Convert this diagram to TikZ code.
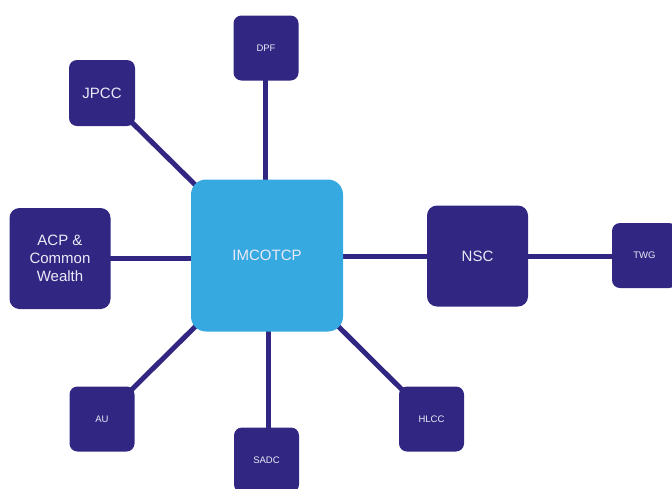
\documentclass[tikz,border=0pt]{standalone}
\usepackage{fontspec}
\setmainfont{Liberation Sans}
\usetikzlibrary{backgrounds}
\definecolor{navy}{HTML}{312783}
\definecolor{sky}{HTML}{36A9E1}
\definecolor{txt}{HTML}{ECEAF6}
\begin{document}
\begin{tikzpicture}[x=1pt,y=-1pt,
 box/.style={fill=navy, rounded corners=8pt, text=txt, font=\fontsize{9.5}{11}\selectfont, minimum width=65pt, minimum height=65pt, inner sep=0pt},
 bigbox/.style={box, rounded corners=10pt, minimum width=101pt, minimum height=101pt, font=\fontsize{15}{18}\selectfont, align=center},
 hub/.style={fill=sky, rounded corners=15pt, text=txt, minimum width=152pt, minimum height=152pt, inner sep=0pt, font=\fontsize{15}{18}\selectfont},
 link/.style={draw=navy, line width=5pt}]
\useasboundingbox (0,0) rectangle (672,488);
\clip (0,0) rectangle (672,488);
\node[hub] (hub) at (267,255.5) {IMCOTCP};
\node[box] (dpf) at (266,48) {DPF};
\node[box, font=\fontsize{15}{18}\selectfont, minimum width=66pt, minimum height=66pt] (jpcc) at (102,93) {JPCC};
\node[bigbox] (acp) at (60,258.5) {ACP \&\\Common\\Wealth};
\node[bigbox] (nsc) at (477.5,256) {NSC};
\node[box] (twg) at (644.5,255.5) {TWG};
\node[box] (au) at (102,419) {AU};
\node[box] (sadc) at (266.5,460) {SADC};
\node[box] (hlcc) at (431.5,419) {HLCC};
\begin{scope}[on background layer]
\draw[link] ([xshift=-1pt]dpf.center) -- ([xshift=-1pt]dpf.center |- hub.center);
\draw[link] (hub.center) -- (jpcc.center);
\draw[link] (acp.center) -- (acp.center -| hub.center);
\draw[link] (nsc.center -| hub.center) -- (nsc.center);
\draw[link] (nsc.center) -- (nsc.center -| twg.center);
\draw[link] (hub.center) -- (au.center);
\draw[link] ([xshift=2pt]sadc.center) -- ([xshift=2pt]sadc.center |- hub.center);
\draw[link] (hub.center) -- (hlcc.center);
\end{scope}
\end{tikzpicture}
\end{document}
